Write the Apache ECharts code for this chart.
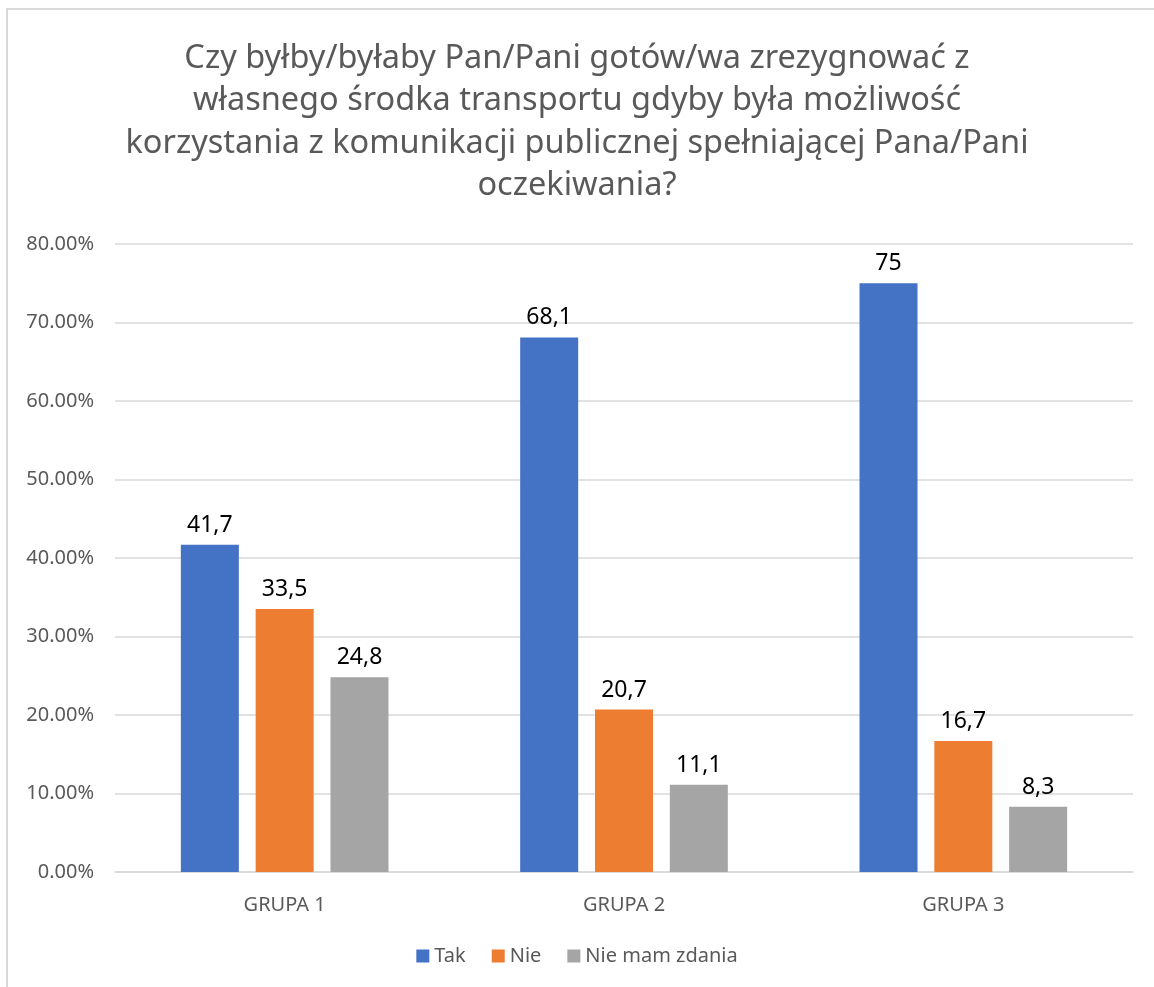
<!DOCTYPE html>
<html>
<head>
<meta charset="utf-8">
<script src="https://cdn.jsdelivr.net/npm/echarts@6/dist/echarts.min.js"></script>
<style>
  html, body { margin: 0; padding: 0; background: #fff; }
  #frame { position: absolute; left: 6px; top: 8px; width: 1200px; height: 1100px;
           border-left: 2px solid #d9d9d9; border-top: 2px solid #d9d9d9; }
  #chart { position: absolute; left: 0; top: 0; width: 1154px; height: 987px; }
</style>
</head>
<body>
<div id="frame"></div>
<div id="chart"></div>
<script>
const titleText = "Czy byłby/byłaby Pan/Pani gotów/wa zrezygnować z\nwłasnego środka transportu gdyby była możliwość\nkorzystania z komunikacji publicznej spełniającej Pana/Pani\noczekiwania?";
const categories = ["GRUPA 1", "GRUPA 2", "GRUPA 3"];
const seriesNames = ["Tak", "Nie", "Nie mam zdania"];
const tak = [41.7, 68.1, 75];
const nie = [33.5, 20.7, 16.7];
const brak = [24.8, 11.1, 8.3];
const colors = ["#4472C4", "#ED7D31", "#A5A5A5"];

const font = "Noto Sans";
const chart = echarts.init(document.getElementById("chart"));
const mk = (name, data, i) => ({
  name, type: "bar", data, barWidth: 58, barGap: "29%",
  itemStyle: { color: colors[i] },
  label: { show: true, position: "top", distance: 8, color: "#000", fontSize: 23, fontFamily: font,
    formatter: p => String(p.value).replace(".", ",") }
});
chart.setOption({
  animation: false,
  title: { text: titleText, left: "center", top: 32,
    textStyle: { fontFamily: font, fontSize: 32.5, fontWeight: "normal", color: "#595959", lineHeight: 42.5 } },
  legend: { bottom: 16, left: "center", itemWidth: 13, itemHeight: 13, itemGap: 26, icon: "rect",
    textStyle: { fontFamily: font, fontSize: 20, color: "#595959" } },
  grid: { left: 115, right: 21, top: 244, bottom: 115 },
  xAxis: { type: "category", data: categories,
    axisLine: { lineStyle: { color: "#d9d9d9", width: 1.5 } }, axisTick: { show: false },
    axisLabel: { fontFamily: font, fontSize: 20, color: "#595959", margin: 23 } },
  yAxis: { type: "value", min: 0, max: 80, interval: 10,
    axisLine: { show: false }, axisTick: { show: false },
    splitLine: { lineStyle: { color: "#d9d9d9", width: 1.5 } },
    axisLabel: { fontFamily: font, fontSize: 20, color: "#595959", margin: 21,
      formatter: v => v.toFixed(2) + "%" } },
  series: [mk(seriesNames[0], tak, 0), mk(seriesNames[1], nie, 1), mk(seriesNames[2], brak, 2)]
});
window.addEventListener("resize", () => chart.resize());
</script>
</body>
</html>
